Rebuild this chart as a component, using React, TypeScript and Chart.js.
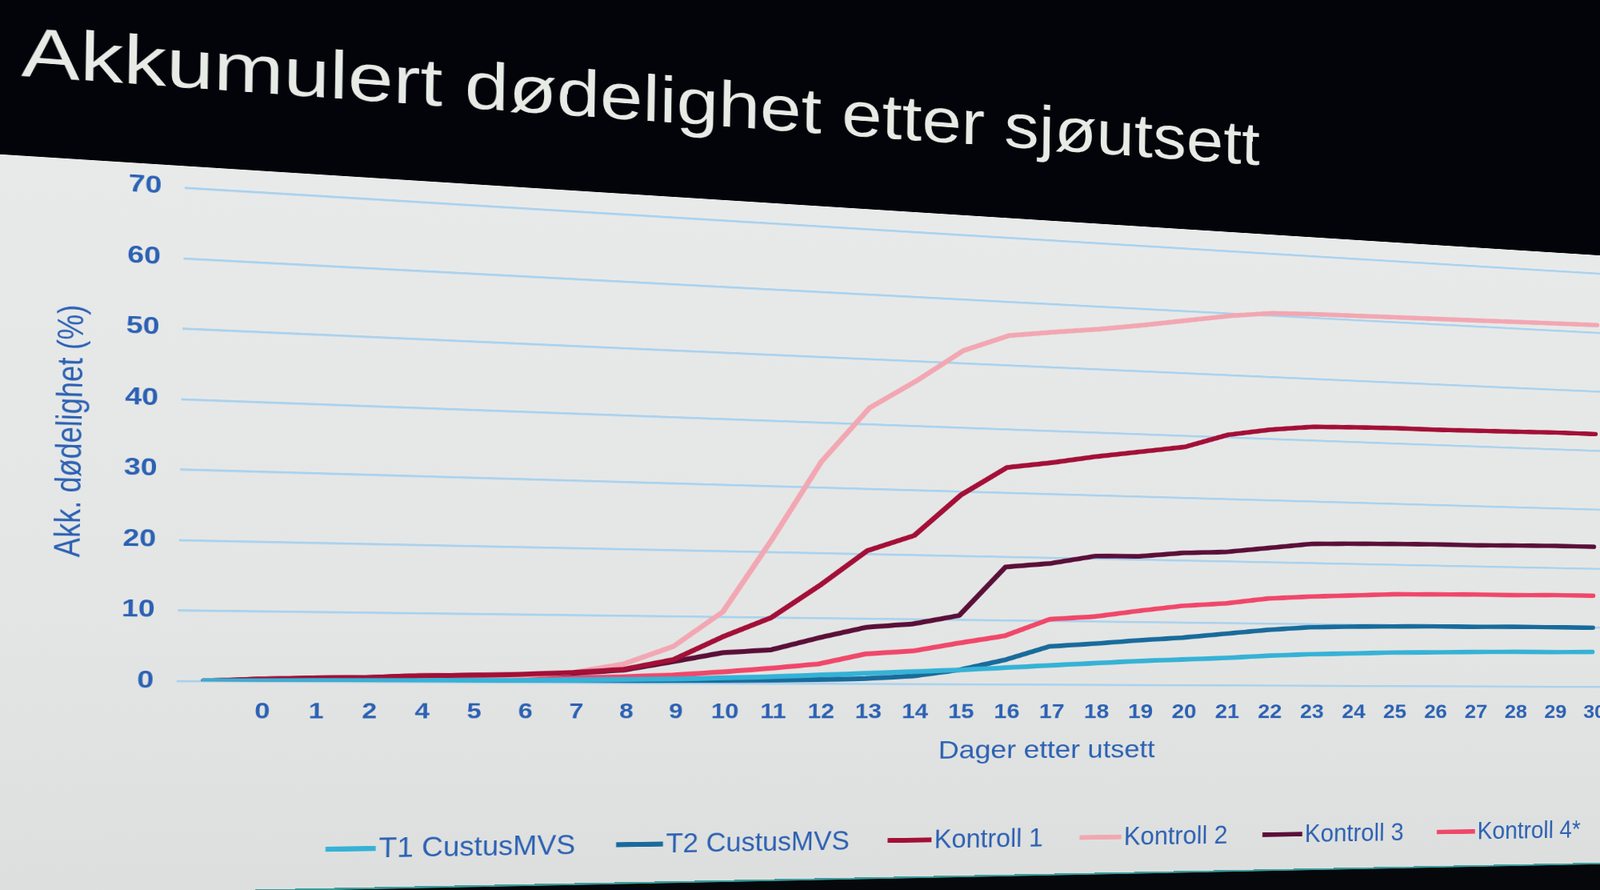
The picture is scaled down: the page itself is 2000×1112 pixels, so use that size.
import React, { useEffect, useRef } from "react";
import { Chart, registerables } from "chart.js";

Chart.register(...registerables);

const FONT = '"Liberation Sans", Arial, "DejaVu Sans", sans-serif';
const TEXT_BLUE = "#2c61b3";

const TITLE = "Akkumulert dødelighet etter sjøutsett";
const X_TITLE = "Dager etter utsett";
const Y_TITLE = "Akk. dødelighet (%)";

// Categories (the first one has no label; day 3 is absent on the axis)
const dayLabels = [
  "", "0", "1", "2", "4", "5", "6", "7", "8", "9", "10", "11", "12", "13", "14",
  "15", "16", "17", "18", "19", "20", "21", "22", "23", "24", "25", "26", "27",
  "28", "29", "30", "31", "32", "33", "34",
];

const seriesNames = [
  "T1 CustusMVS",
  "T2 CustusMVS",
  "Kontroll 1",
  "Kontroll 2",
  "Kontroll 3",
  "Kontroll 4*",
];

const seriesColors = ["#35b2d6", "#186b9c", "#a30f37", "#f2a7b2", "#5a0f38", "#f0476a"];

const t1Values = [
  0, 0.05, 0.1, 0.15, 0.2, 0.25, 0.3, 0.4, 0.5, 0.6, 0.8, 1.0, 1.3, 1.6, 1.9,
  2.2, 2.6, 3.0, 3.4, 3.8, 4.1, 4.4, 4.8, 5.1, 5.3, 5.5, 5.6, 5.7, 5.8, 5.8, 5.9,
];
const t2Values = [
  0, 0, 0.05, 0.1, 0.1, 0.15, 0.2, 0.2, 0.3, 0.35, 0.4, 0.5, 0.6, 0.8, 1.2,
  2.2, 3.8, 6.0, 6.5, 7.1, 7.6, 8.3, 9.0, 9.5, 9.7, 9.8, 9.9, 9.9, 10, 10, 10,
];
const kontroll1Values = [
  0, 0.3, 0.5, 0.6, 0.9, 1.0, 1.2, 1.5, 2.0, 3.5, 7.0, 10.0, 15.0, 20.5, 23.0,
  29.5, 34.0, 35.0, 36.2, 37.2, 38.2, 40.4, 41.5, 42.2, 42.4, 42.5, 42.5, 42.6, 42.7, 42.8, 42.8,
];
const kontroll2Values = [
  0, 0.2, 0.3, 0.4, 0.6, 0.8, 1.0, 1.5, 2.8, 5.5, 10.8, 22.0, 34.0, 42.5, 47.0,
  52.0, 54.7, 55.6, 56.4, 57.4, 58.5, 59.6, 60.4, 60.6, 60.7, 60.8, 60.9, 61.0, 61.1, 61.2, 61.3,
];
const kontroll3Values = [
  0, 0.3, 0.5, 0.6, 0.9, 1.0, 1.1, 1.4, 1.9, 3.2, 4.6, 5.1, 7.0, 8.7, 9.3,
  10.7, 18.4, 19.1, 20.4, 20.5, 21.2, 21.5, 22.3, 23.1, 23.3, 23.4, 23.5, 23.5, 23.6, 23.7, 23.7,
];
const kontroll4Values = [
  0, 0.1, 0.2, 0.3, 0.4, 0.5, 0.6, 0.7, 0.9, 1.2, 1.7, 2.3, 3.0, 4.6, 5.1,
  6.4, 7.6, 10.3, 10.8, 11.8, 12.7, 13.2, 14.1, 14.5, 14.8, 15.1, 15.2, 15.3, 15.3, 15.4, 15.4,
];

const seriesValues = [t1Values, t2Values, kontroll1Values, kontroll2Values, kontroll3Values, kontroll4Values];

const yMin = 0;
const yMax = 70;
const yStep = 10;

// Where the plot corners (first/last visible category at 70 and 0) sit in the photo
const PHOTO_CORNERS = [
  [265, 237],
  [255, 851],
  [1997, 342],
  [1990, 858],
];
const LAST_VISIBLE_INDEX = 30;

function solveLinear(A: number[][], b: number[]): number[] {
  const n = b.length;
  const M = A.map((row, i) => [...row, b[i]]);
  for (let c = 0; c < n; c++) {
    let p = c;
    for (let r = c + 1; r < n; r++) if (Math.abs(M[r][c]) > Math.abs(M[p][c])) p = r;
    [M[c], M[p]] = [M[p], M[c]];
    for (let r = 0; r < n; r++) {
      if (r === c) continue;
      const f = M[r][c] / M[c][c];
      for (let k = c; k <= n; k++) M[r][k] -= f * M[c][k];
    }
  }
  return M.map((row, i) => row[n] / row[i]);
}

function homography(src: number[][], dst: number[][]): number[] {
  const A: number[][] = [];
  const b: number[] = [];
  for (let i = 0; i < 4; i++) {
    const [x, y] = src[i];
    const [u, v] = dst[i];
    A.push([x, y, 1, 0, 0, 0, -u * x, -u * y]);
    b.push(u);
    A.push([0, 0, 0, x, y, 1, -v * x, -v * y]);
    b.push(v);
  }
  return solveLinear(A, b);
}

const stripLegend = {
  id: "stripLegend",
  afterDraw(chart: any) {
    const o = chart.options.plugins.stripLegend;
    const ctx = chart.ctx;
    ctx.save();
    ctx.font = `${o.size}px ${FONT}`;
    const items = chart.data.datasets.map((ds: any) => ({
      label: ds.label,
      color: ds.borderColor,
      w: ctx.measureText(ds.label).width * o.squeeze,
    }));
    const total =
      items.reduce((s: number, it: any) => s + o.line + o.gap + it.w, 0) + o.itemGap * (items.length - 1);
    let x = chart.width / 2 - total / 2 + o.dx;
    const y = o.y;
    ctx.textBaseline = "middle";
    ctx.textAlign = "left";
    for (const it of items) {
      ctx.strokeStyle = it.color;
      ctx.lineWidth = o.thick;
      ctx.lineCap = "butt";
      ctx.beginPath();
      ctx.moveTo(x, y);
      ctx.lineTo(x + o.line, y);
      ctx.stroke();
      x += o.line + o.gap;
      ctx.save();
      ctx.translate(x, y + 2);
      ctx.scale(o.squeeze, 1);
      ctx.fillStyle = TEXT_BLUE;
      ctx.fillText(it.label, 0, 0);
      ctx.restore();
      x += it.w + o.itemGap;
    }
    ctx.restore();
  },
};

const CW = 2706;
const CH = 1400;

export default function App() {
  const canvasRef = useRef<HTMLCanvasElement | null>(null);
  const flatRef = useRef<HTMLDivElement | null>(null);

  useEffect(() => {
    if (!canvasRef.current || !flatRef.current) return;
    const chart = new Chart(canvasRef.current, {
      type: "line",
      data: {
        labels: dayLabels,
        datasets: seriesNames.map((name, i) => ({
          label: name,
          data: seriesValues[i],
          borderColor: seriesColors[i],
          backgroundColor: seriesColors[i],
          borderWidth: 8,
          pointRadius: 0,
          pointHoverRadius: 0,
          tension: 0,
          fill: false,
          borderJoinStyle: "round",
          borderCapStyle: "round",
        })),
      },
      options: {
        animation: false,
        responsive: false,
        maintainAspectRatio: false,
        events: [],
        layout: { padding: { left: 0, top: 296, right: 76, bottom: 205 } },
        plugins: {
          legend: { display: false },
          tooltip: { enabled: false },
          // @ts-ignore
          stripLegend: { y: 1318, dx: 5, size: 44, squeeze: 0.885, line: 65, gap: 4, itemGap: 56, thick: 8 },
        },
        scales: {
          x: {
            type: "category",
            offset: true,
            grid: { display: false, drawTicks: false },
            border: { display: false },
            ticks: {
              color: TEXT_BLUE,
              font: { family: FONT, size: 35, weight: "bold" },
              padding: 27,
              labelOffset: 5,
              maxRotation: 0,
              autoSkip: false,
            },
            title: {
              display: true,
              text: X_TITLE,
              color: TEXT_BLUE,
              font: { family: FONT, size: 43 },
              padding: { top: -8, bottom: 0 },
            },
          },
          y: {
            min: yMin,
            max: yMax,
            grid: { color: "#a9d2ee", lineWidth: 3.5, drawTicks: false },
            border: { display: false },
            ticks: {
              stepSize: yStep,
              color: TEXT_BLUE,
              font: { family: FONT, size: 37, weight: "bold" },
              padding: 28,
            },
            title: {
              display: true,
              text: Y_TITLE,
              color: TEXT_BLUE,
              font: { family: FONT, size: 44 },
              padding: { top: 60, bottom: 0 },
            },
            afterFit: (s: any) => {
              s.width = 220.6;
            },
          },
        },
      },
      plugins: [stripLegend as any],
    } as any);

    const xs: any = chart.scales.x;
    const ys: any = chart.scales.y;
    const src = [
      [xs.getPixelForValue(0), ys.getPixelForValue(yMax)],
      [xs.getPixelForValue(0), ys.getPixelForValue(yMin)],
      [xs.getPixelForValue(LAST_VISIBLE_INDEX), ys.getPixelForValue(yMax)],
      [xs.getPixelForValue(LAST_VISIBLE_INDEX), ys.getPixelForValue(yMin)],
    ];
    const h = homography(src, PHOTO_CORNERS);
    flatRef.current.style.transform = `matrix3d(${h[0]},${h[3]},0,${h[6]},${h[1]},${h[4]},0,${h[7]},0,0,1,0,${h[2]},${h[5]},0,1)`;

    return () => chart.destroy();
  }, []);

  return (
    <div
      style={{
        position: "fixed",
        left: 0,
        top: 0,
        width: 2000,
        height: 1112,
        overflow: "hidden",
        background: "#05070b",
      }}
    >
      <div
        ref={flatRef}
        style={{
          position: "absolute",
          left: 0,
          top: 0,
          width: CW,
          height: CH,
          transformOrigin: "0 0",
        }}
      >
        <div
          style={{
            position: "absolute",
            left: -300,
            top: -400,
            width: 3400,
            height: 662,
            background: "#03040a",
          }}
        />
        <div
          style={{
            position: "absolute",
            left: -300,
            top: 262,
            width: 3400,
            height: 1117,
            background: "linear-gradient(to bottom, #e8eaea 0%, #e4e6e5 60%, #dddfde 100%)",
            borderBottom: "3px solid #3a9c9c",
          }}
        />
        <div
          style={{
            position: "absolute",
            left: 19,
            top: 51,
            fontFamily: FONT,
            fontSize: 106,
            lineHeight: "106px",
            color: "#e6ebe6",
            whiteSpace: "nowrap",
          }}
        >
          {TITLE}
        </div>
        <canvas
          ref={canvasRef}
          width={CW}
          height={CH}
          style={{ position: "absolute", left: 0, top: 0, width: CW, height: CH }}
        />
      </div>
    </div>
  );
}
